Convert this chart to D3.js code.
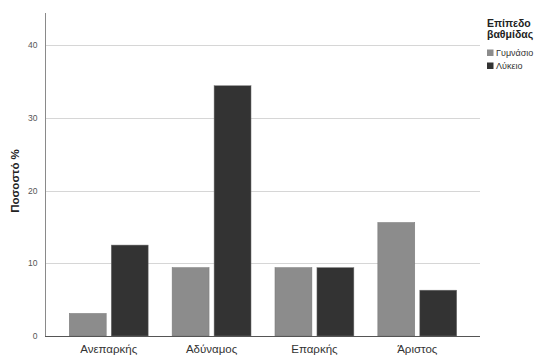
<!DOCTYPE html>
<html><head><meta charset="utf-8">
<script src="https://cdn.jsdelivr.net/npm/d3@7"></script>
<style>body{margin:0;background:#fff}svg{display:block;font-family:"Liberation Sans",Arial,sans-serif}</style>
</head><body>
<svg id="c" width="540" height="359"></svg>
<script>
const categories = ["Ανεπαρκής", "Αδύναμος", "Επαρκής", "Άριστος"];
const seriesNames = ["Γυμνάσιο", "Λύκειο"];
const gymnasio = [3.1, 9.4, 9.4, 15.6];
const lykeio = [12.5, 34.4, 9.4, 6.3];
const yTicks = [0, 10, 20, 30, 40];
const legendTitle = ["Επίπεδο", "βαθμίδας"];
const colors = ["#8c8c8c", "#333333"];

(function () {
const svg = d3.select("#c");
const pLeft = 45, pRight = 481, pTop = 13, pBottom = 336;
const y = d3.scaleLinear().domain([0, 44.4]).range([pBottom, pTop]);
const x0 = d3.scaleBand().domain(categories).range([pLeft, pRight]).paddingInner(0.233).paddingOuter(0.236);
const x1 = d3.scaleBand().domain(seriesNames).range([0, x0.bandwidth()]).paddingInner(0.12);
const color = d3.scaleOrdinal().domain(seriesNames).range(colors);

// gridlines
svg.append("g").selectAll("line").data(yTicks.filter(d => d > 0)).join("line")
  .attr("x1", pLeft).attr("x2", pRight - 1)
  .attr("y1", d => Math.round(y(d)) + 0.5).attr("y2", d => Math.round(y(d)) + 0.5)
  .attr("stroke", "#d6d6d6").attr("stroke-width", 1);

// y axis
const yAxis = svg.append("g").attr("transform", `translate(${pLeft + 0.5},0)`)
  .call(d3.axisLeft(y).tickValues(yTicks).tickSize(0).tickPadding(8));
yAxis.select(".domain").remove();
yAxis.selectAll("text").attr("fill", "#555").style("font-size", "8.5px").style("font-family", '"Liberation Sans",Arial,sans-serif');
svg.append("line").attr("x1", pLeft + 0.5).attr("x2", pLeft + 0.5).attr("y1", pTop).attr("y2", pBottom)
  .attr("stroke", "#8a8a8a");

// bars
const data = categories.map((c, i) => ({ cat: c, vals: [gymnasio[i], lykeio[i]] }));
const g = svg.append("g").selectAll("g").data(data).join("g")
  .attr("transform", d => `translate(${x0(d.cat)},0)`);
g.selectAll("rect").data(d => d.vals.map((v, j) => ({ s: seriesNames[j], v })))
  .join("rect")
  .attr("x", d => x1(d.s)).attr("width", x1.bandwidth())
  .attr("y", d => y(d.v)).attr("height", d => pBottom - y(d.v))
  .attr("fill", d => color(d.s))
  .attr("stroke", "#777").attr("stroke-width", 0.5);

// x axis
svg.append("line").attr("x1", pLeft).attr("x2", pRight - 1).attr("y1", pBottom + 0.5).attr("y2", pBottom + 0.5)
  .attr("stroke", "#555");
const xAxis = svg.append("g").attr("transform", `translate(0,${pBottom})`)
  .call(d3.axisBottom(x0).tickSize(0).tickPadding(9));
xAxis.select(".domain").remove();
xAxis.selectAll("text").attr("fill", "#333").style("font-size", "11.5px").style("font-family", '"Liberation Sans",Arial,sans-serif');

// y title
svg.append("text").attr("transform", "translate(19,181) rotate(-90)")
  .attr("text-anchor", "middle").attr("font-weight", "bold").attr("font-size", "11.5px").attr("fill", "#222")
  .text("Ποσοστό %");

// legend
const lg = svg.append("g");
lg.selectAll("text.title").data(legendTitle).join("text").attr("class", "title")
  .attr("x", 487).attr("y", (d, i) => 27 + i * 11)
  .attr("font-weight", "bold").attr("font-size", "10.5px").attr("fill", "#222")
  .text(d => d);
const items = lg.selectAll("g.item").data(seriesNames).join("g").attr("class", "item")
  .attr("transform", (d, i) => `translate(487,${49.5 + i * 13})`);
items.append("rect").attr("width", 6.5).attr("height", 6.5).attr("fill", d => color(d));
items.append("text").attr("x", 9).attr("y", 3.3).attr("dy", "0.35em").attr("font-size", "9px").attr("fill", "#333")
  .text(d => d);
})();
</script>
</body></html>
